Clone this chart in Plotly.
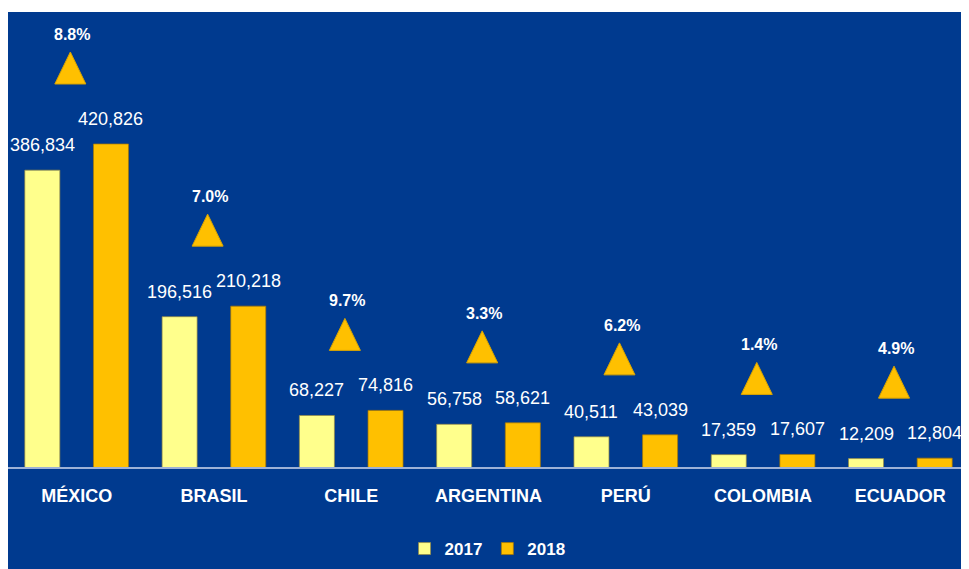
import plotly.graph_objects as go

# ---- data ----
countries = ["MÉXICO", "BRASIL", "CHILE", "ARGENTINA", "PERÚ", "COLOMBIA", "ECUADOR"]
v2017 = [386834, 196516, 68227, 56758, 40511, 17359, 12209]
v2018 = [420826, 210218, 74816, 58621, 43039, 17607, 12804]
series_names = ["2017", "2018"]

# ---- styles ----
BG = "#003A8F"
C2017 = "#FFFF8C"
C2018 = "#FFC000"
FONT = "Liberation Sans, Arial, sans-serif"

# page body has an 8px margin, so the figure is sized to fill the window from there
W, H = 961, 561
M_L, M_R, M_T, M_B = 0, 0, 4, 0
PLOT_H = H - M_T - M_B
UNIT_PER_PX = 1298.8
BASE_PX_FROM_BOTTOM = 101
Y_MIN = -BASE_PX_FROM_BOTTOM * UNIT_PER_PX
Y_MAX = (PLOT_H - BASE_PX_FROM_BOTTOM) * UNIT_PER_PX

x = list(range(len(countries)))
BAR_OFFSET = 0.25   # bar centre offset within group (bargap 0 -> slot 0.5)

fig = go.Figure()
fig.add_trace(go.Bar(name=series_names[0], x=x, y=v2017,
                     marker=dict(color=C2017, line=dict(color="rgba(150,140,70,0.7)", width=1)),
                     hoverinfo="skip"))
fig.add_trace(go.Bar(name=series_names[1], x=x, y=v2018,
                     marker=dict(color=C2018, line=dict(color="rgba(170,120,0,0.7)", width=1)),
                     hoverinfo="skip"))

# growth triangles
TRI_GAP_PX = 60
TRI_H_PX = 32
TRI_HALF_W = 0.113
TRI_DX = -0.046
annotations = []
for i, (a, b) in enumerate(zip(v2017, v2018)):
    yb = b + TRI_GAP_PX * UNIT_PER_PX
    yt = yb + TRI_H_PX * UNIT_PER_PX
    xc = i + TRI_DX
    fig.add_trace(go.Scatter(
        x=[xc - TRI_HALF_W, xc + TRI_HALF_W, xc, xc - TRI_HALF_W],
        y=[yb, yb, yt, yb], mode="lines", fill="toself",
        fillcolor=C2018, line=dict(color="#D9A400", width=1),
        showlegend=False, hoverinfo="skip"))
    growth = (b / a - 1) * 100
    annotations.append(dict(x=xc + 0.015, y=yt, text=f"{growth:.1f}%", showarrow=False,
                            xanchor="center", yanchor="bottom", yshift=7,
                            font=dict(family=FONT, size=16, color="white", weight="bold")))
    for val, dx in ((a, -BAR_OFFSET), (b, BAR_OFFSET)):
        annotations.append(dict(x=i + dx, y=val, text=f"{val:,}", showarrow=False,
                                xanchor="center", yanchor="bottom", yshift=13,
                                font=dict(family=FONT, size=18, color="white")))

fig.update_layout(
    width=W, height=H,
    margin=dict(l=M_L, r=M_R, t=M_T, b=M_B, pad=0),
    paper_bgcolor="white", plot_bgcolor=BG,
    barmode="group", bargap=0, bargroupgap=0.49,
    annotations=annotations,
    showlegend=True,
    legend=dict(orientation="h", x=0.499, xanchor="center", y=20 / PLOT_H, yanchor="middle",
                bgcolor="rgba(0,0,0,0)", traceorder="normal", itemwidth=30,
                font=dict(family=FONT, size=17, color="white", weight="bold")),
    xaxis=dict(range=[-0.5, 6.5], tickmode="array", tickvals=x, ticktext=countries,
               showgrid=False, zeroline=False, showline=True, linecolor="#9DB1D6", linewidth=2,
               anchor="free", position=BASE_PX_FROM_BOTTOM / PLOT_H,
               ticks="outside", ticklen=11, tickcolor="rgba(0,0,0,0)",
               tickfont=dict(family=FONT, size=18, color="white", weight="bold"),
               fixedrange=True),
    yaxis=dict(range=[Y_MIN, Y_MAX], visible=False, fixedrange=True),
)

fig.write_html("out.html", config={"displayModeBar": False})
